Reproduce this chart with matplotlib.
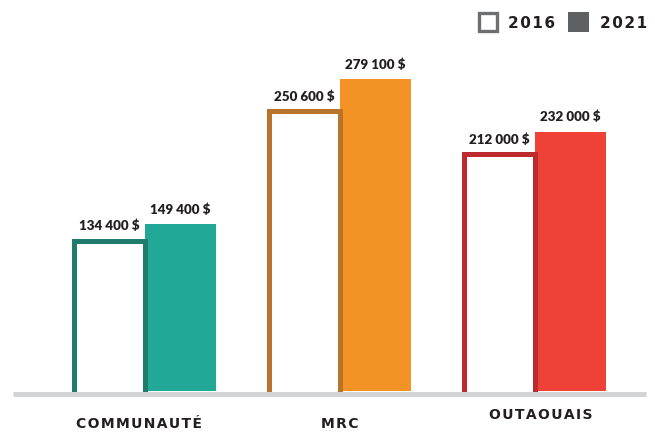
import matplotlib
matplotlib.use("Agg")
import matplotlib.pyplot as plt
from matplotlib.patches import Rectangle
from matplotlib.transforms import IdentityTransform, blended_transform_factory

# ---- data ----
categories = ["COMMUNAUTÉ", "MRC", "OUTAOUAIS"]
values_2016 = [134400, 250600, 212000]
values_2021 = [149400, 279100, 232000]
legend_labels = ["2016", "2021"]

# ---- styles ----
fill_2021 = ["#22A896", "#F39325", "#EE4137"]
edge_2016 = ["#1F7B6C", "#B8742B", "#BE2B2F"]
base_color = "#D1D3D4"
legend_color = "#5F6062"

W, H, DPI = 655, 432, 100
fig = plt.figure(figsize=(W / DPI, H / DPI), dpi=DPI)
ax = fig.add_axes([0, 0, 1, 1])
ax.set_xlim(-0.744, 2.615)
ax.set_ylim(-36700, 350000)
ax.axis("off")

px_y = (350000 + 36700) / H          # data units per pixel (y)
bar_w = 0.364
edge_px = 5
edge_pt = edge_px * 72 / DPI
off = 2.5 * px_y                      # half of baseline thickness

x = list(range(len(categories)))
x16 = [i - bar_w / 2 for i in x]
x21 = [i + bar_w / 2 for i in x]

# 2021 filled bars
ax.bar(x21, values_2021, width=bar_w, color=fill_2021, zorder=2)
# 2016 outlined bars (bottom edge hidden under baseline)
ax.bar(x16, [v + off for v in values_2016], bottom=-off, width=bar_w,
       facecolor="white", edgecolor=edge_2016, linewidth=edge_pt,
       joinstyle="miter", zorder=3)

# baseline
ax.axhline(-off, xmin=13 / W, xmax=646 / W, color=base_color,
           linewidth=edge_pt, zorder=5, solid_capstyle="butt")

# value labels
def fmt(v):
    return f"{v:,}".replace(",", " ") + " $"

for xs, vals in ((x16, values_2016), (x21, values_2021)):
    for xi, v in zip(xs, vals):
        ax.annotate(fmt(v), (xi, v), xytext=(0, 7.5), textcoords="offset points",
                    ha="center", va="baseline", fontsize=9.6, fontweight="heavy",
                    family="Lato", color="#231F20", zorder=6)

# category labels
tr = blended_transform_factory(ax.transData, ax.transAxes)
cat_base_y = [4 / H, 4 / H, 13 / H]
cat_dx = [-0.03, 0.0, 0.03]
for xi, name, yb, dx in zip(x, categories, cat_base_y, cat_dx):
    ax.text(xi + dx, yb, "\u200a".join(name), transform=tr, ha="center", va="baseline",
            fontsize=10, fontweight="bold", family="DejaVu Sans", color="#231F20")

# legend (manual)
idt = IdentityTransform()
fig.add_artist(Rectangle((478.5, H - 30.5), 18, 18, transform=idt,
                         facecolor="white", edgecolor="#6D6E71", linewidth=2.4))
fig.add_artist(Rectangle((568, H - 32), 21, 20, transform=idt,
                         facecolor=legend_color, edgecolor="none"))
fig.text(508 / W, (H - 28) / H, "\u200a".join(legend_labels[0]), ha="left", va="baseline",
         fontsize=11, fontweight="bold", family="DejaVu Sans", color="#231F20")
fig.text(600 / W, (H - 28) / H, "\u200a".join(legend_labels[1]), ha="left", va="baseline",
         fontsize=11, fontweight="bold", family="DejaVu Sans", color="#231F20")

fig.savefig("out.png", dpi=DPI, facecolor="white")
